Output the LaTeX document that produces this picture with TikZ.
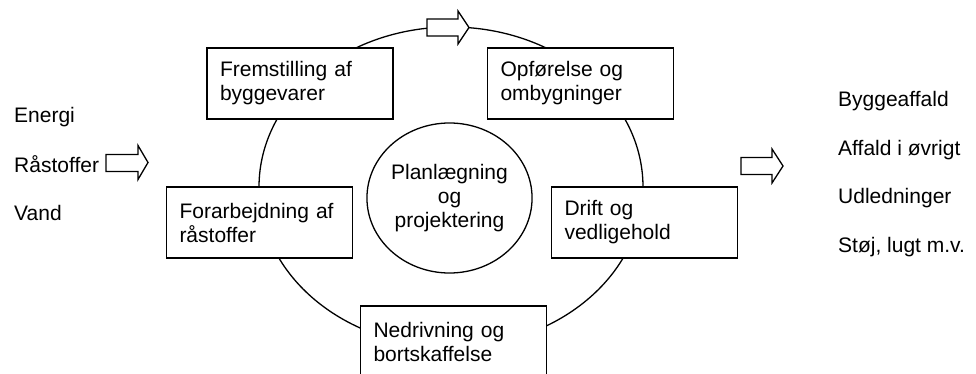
\documentclass[tikz,border=0pt]{standalone}
\usepackage{fontspec}
\setmainfont{Liberation Sans}
\usetikzlibrary{shapes.geometric}
\begin{document}
\begin{tikzpicture}[x=1pt,y=-1pt,
  every node/.style={font=\fontsize{21}{24}\selectfont},
  stagebox/.style={draw=black, line width=1.6pt, fill=white, rectangle,
    minimum width=186pt, minimum height=71pt, text width=160pt,
    inner xsep=13pt, inner ysep=0pt, align=left},
  centre/.style={draw=black, line width=1.3pt, fill=white, ellipse,
    minimum width=165pt, minimum height=150pt, inner sep=0pt, align=center},
  blockarrow/.style={draw=black, line width=1.3pt, fill=white, line join=miter},
  side/.style={anchor=base west, inner sep=0pt}]
\useasboundingbox (0,0) rectangle (976,374);
% cycle
\draw[line width=1.3pt] (451,187) ellipse [x radius=192pt, y radius=160pt];
% flow arrows
\draw[blockarrow] (427,19) -- (458,19) -- (458,11) -- (469,27.5) -- (458,44) -- (458,36) -- (427,36) -- cycle;
\draw[blockarrow] (106,154.5) -- (138,154.5) -- (138,145.5) -- (148,162.5) -- (138,179.5) -- (138,171.5) -- (106,171.5) -- cycle;
\draw[blockarrow] (741,157.5) -- (772,157.5) -- (772,149) -- (783,166) -- (772,183) -- (772,174.5) -- (741,174.5) -- cycle;
% stages
\node[stagebox] (fab) at (300,83.5) {Fremstilling af\\byggevarer};
\node[stagebox] (opf) at (580.5,83.5) {Opførelse og\\ombygninger};
\node[stagebox] (forb) at (259.5,222.5) {Forarbejdning af\\råstoffer};
\node[stagebox] (drift) at (644.5,222.5) {Drift og\\vedligehold};
\node[stagebox] (ned) at (453.5,341.5) {Nedrivning og\\bortskaffelse};
\node[centre] (plan) at (449.5,198) {Planlægning\\og\\projektering};
% inputs
\node[side] (energi) at (14,123) {Energi};
\node[side] (raa) at (14,172) {Råstoffer};
\node[side] (vand) at (14,220) {Vand};
% outputs
\node[side] (bygaf) at (838,107) {Byggeaffald};
\node[side] (aff) at (838,156) {Affald i øvrigt};
\node[side] (udl) at (838,204) {Udledninger};
\node[side] (stoj) at (838,252) {Støj, lugt m.v.};
\end{tikzpicture}
\end{document}
